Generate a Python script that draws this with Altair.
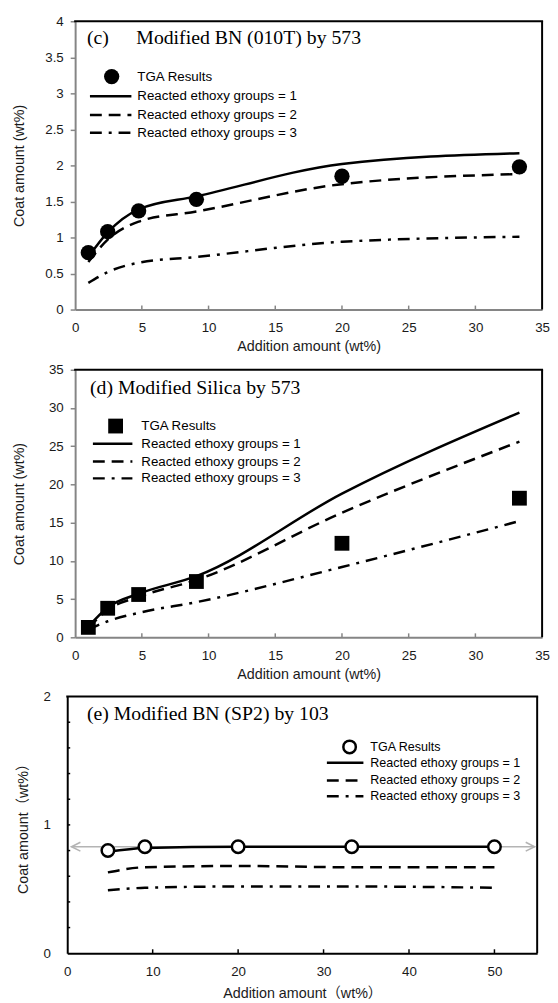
import altair as alt
import pandas as pd

SANS = "Liberation Sans, Arial, Noto Sans CJK JP, sans-serif"
SERIF = "Liberation Serif, Times New Roman, serif"

# ---------------- data ----------------
SERIES = ["Reacted ethoxy groups = 1", "Reacted ethoxy groups = 2", "Reacted ethoxy groups = 3"]

# (c) Modified BN (010T) by 573
c_x = [0.99, 2.44, 4.76, 9.09, 20.0, 33.3]
c_tga = [0.79, 1.08, 1.37, 1.53, 1.85, 1.98]
c_r1 = [0.73, 1.07, 1.39, 1.57, 2.02, 2.17]
c_r2 = [0.66, 0.97, 1.22, 1.36, 1.74, 1.88]
c_r3 = [0.37, 0.52, 0.65, 0.73, 0.94, 1.01]

# (d) Modified Silica by 573
d_x = [0.99, 2.44, 4.76, 9.09, 20.0, 33.3]
d_tga = [1.3, 3.8, 5.6, 7.3, 12.3, 18.2]
d_r1 = [1.4, 3.9, 5.7, 8.0, 18.8, 29.4]
d_r2 = [1.2, 3.6, 5.3, 7.5, 16.3, 25.6]
d_r3 = [1.0, 2.1, 3.2, 4.6, 9.2, 15.2]

# (e) Modified BN (SP2) by 103
e_x = [4.76, 9.09, 20.0, 33.3, 50.0]
e_tga = [0.80, 0.83, 0.83, 0.83, 0.83]
e_r1 = [0.79, 0.82, 0.83, 0.83, 0.83]
e_r2 = [0.63, 0.67, 0.68, 0.67, 0.67]
e_r3 = [0.49, 0.51, 0.52, 0.52, 0.51]
e_arrow_x = [0.5, 54.7]
e_arrow_y = 0.83

c_xticks = [0, 5, 10, 15, 20, 25, 30, 35]
c_yticks = [0, 0.5, 1, 1.5, 2, 2.5, 3, 3.5, 4]
d_xticks = [0, 5, 10, 15, 20, 25, 30, 35]
d_yticks = [0, 5, 10, 15, 20, 25, 30, 35]
e_xticks = [0, 10, 20, 30, 40, 50]
e_yticks = [0, 1, 2]
e_yminor = [0.2, 0.4, 0.6, 0.8, 1.0, 1.2, 1.4, 1.6, 1.8]

DASHES = [None, [12, 7], [12, 7, 3, 7]]
ONE = pd.DataFrame({"k": [0]})
NBSP = "\u00a0"


def panel(x, tga, reds, *, W, H, x0, xdom, ydom, xticks, yticks, xtitle, ytitle,
          ytitle_x, axis_color, shape, filled, psize, pstroke,
          titles, leg, ytick_out, ylabel_pad, xlabel_pad, xtitle_pad,
          leg_font=13.5, ylabel_expr=None, yminor=None, arrow=None, extent_left=None):
    # x0: pixel inset of the real plot frame inside the view (keeps panels' frames where the
    # original figure has them while the concat layout aligns view origins)
    yaxis_kw = dict(values=yticks, title=ytitle, domainColor=axis_color, domainWidth=2,
                    labelPadding=ylabel_pad, labelOverlap=False, labelFlush=False, format="~f",
                    titleX=ytitle_x, titleBaseline="middle", grid=False, offset=-x0)
    if ytick_out:
        yaxis_kw.update(ticks=True, tickSize=5, tickColor=axis_color, tickWidth=1.5)
    else:
        yaxis_kw.update(ticks=False, tickSize=0)
    if ylabel_expr:
        yaxis_kw["labelExpr"] = ylabel_expr
    xenc = alt.X("x:Q", scale=alt.Scale(domain=xdom, range=[x0, W], nice=False, zero=False),
                 axis=alt.Axis(values=xticks, title=xtitle, domainColor=axis_color, domainWidth=2,
                               ticks=False, tickSize=0, labelPadding=xlabel_pad, titlePadding=xtitle_pad,
                               titleX=(x0 + W) / 2,
                               format="~f", labelOverlap=False, labelFlush=False, grid=False))
    yenc = alt.Y("y:Q", scale=alt.Scale(domain=ydom, nice=False, zero=False),
                 axis=alt.Axis(**yaxis_kw))

    layers = []
    # frame: top and right borders
    layers.append(alt.Chart(ONE).mark_rule(stroke="black", strokeWidth=2).encode(
        x=alt.value(x0 - 1), x2=alt.value(W + 1), y=alt.value(0)))
    layers.append(alt.Chart(ONE).mark_rule(stroke="black", strokeWidth=2).encode(
        x=alt.value(W), y=alt.value(0), y2=alt.value(H)))
    # inward x ticks
    inner_x = [v for v in xticks if xdom[0] < v < xdom[1]]
    layers.append(alt.Chart(pd.DataFrame({"x": inner_x})).mark_rule(
        stroke=axis_color, strokeWidth=1.5).encode(x=xenc, y=alt.value(H), y2=alt.value(H - 4)))
    if yminor:
        layers.append(alt.Chart(pd.DataFrame({"y": yminor})).mark_rule(
            stroke=axis_color, strokeWidth=1.5).encode(y=yenc, x=alt.value(x0), x2=alt.value(x0 + 3)))
    if arrow:
        ax, ay = arrow
        layers.append(alt.Chart(pd.DataFrame({"x": [ax[0]], "x2": [ax[1]], "y": [ay]})).mark_rule(
            stroke="#b4b4b4", strokeWidth=1.6).encode(x=xenc, x2="x2:Q", y=yenc))
        layers.append(alt.Chart(pd.DataFrame({"x": [ax[0]], "y": [ay]})).mark_point(
            shape="M2,-1L0,0L2,1", size=81, filled=False, stroke="#b4b4b4", strokeWidth=1.6,
            opacity=1).encode(x=xenc, y=yenc))
        layers.append(alt.Chart(pd.DataFrame({"x": [ax[1]], "y": [ay]})).mark_point(
            shape="M-2,-1L0,0L-2,1", size=81, filled=False, stroke="#b4b4b4", strokeWidth=1.6,
            opacity=1).encode(x=xenc, y=yenc))
    # model lines
    for vals, dash in zip(reversed(reds), reversed(DASHES)):
        kw = dict(interpolate="monotone", stroke="black", strokeWidth=2.5)
        if dash:
            kw["strokeDash"] = dash
        layers.append(alt.Chart(pd.DataFrame({"x": x, "y": vals})).mark_line(**kw).encode(x=xenc, y=yenc))
    # TGA points
    pkw = dict(shape=shape, size=psize, opacity=1)
    if filled:
        pkw.update(filled=True, fill="black", stroke="black", strokeWidth=0)
    else:
        pkw.update(filled=True, fill="white", stroke="black", strokeWidth=pstroke)
    layers.append(alt.Chart(pd.DataFrame({"x": x, "y": tga})).mark_point(**pkw).encode(x=xenc, y=yenc))

    # legend
    sx, sy, tx, rows, lx0, lx1 = leg
    layers.append(alt.Chart(ONE).mark_point(**pkw).encode(x=alt.value(x0 + sx), y=alt.value(sy)))
    layers.append(alt.Chart(ONE).mark_text(align="left", baseline="middle", font=SANS,
                                           fontSize=leg_font, color="black").encode(
        x=alt.value(x0 + tx), y=alt.value(rows[0]), text=alt.value("TGA Results")))
    for name, dash, ry in zip(SERIES, DASHES, rows[1:]):
        kw = dict(stroke="black", strokeWidth=2.5)
        if dash:
            kw["strokeDash"] = dash
        layers.append(alt.Chart(ONE).mark_rule(**kw).encode(
            x=alt.value(x0 + lx0), x2=alt.value(x0 + lx1), y=alt.value(ry)))
        layers.append(alt.Chart(ONE).mark_text(align="left", baseline="middle", font=SANS,
                                               fontSize=leg_font, color="black").encode(
            x=alt.value(x0 + tx), y=alt.value(ry), text=alt.value(name)))
    # panel titles
    for txt, tx_, ty_ in titles:
        layers.append(alt.Chart(ONE).mark_text(align="left", baseline="alphabetic", font=SERIF,
                                               fontSize=20, color="black").encode(
            x=alt.value(x0 + tx_), y=alt.value(ty_), text=alt.value(txt)))
    if extent_left:
        layers.append(alt.Chart(ONE).mark_rule(stroke="white", strokeWidth=1).encode(
            x=alt.value(-extent_left), x2=alt.value(-extent_left + 1), y=alt.value(H / 2)))

    return alt.layer(*layers).properties(
        width=W, height=H,
        view=alt.ViewBackground(strokeOpacity=0, strokeWidth=0, fill="white"))


dec_expr = "datum.value % 1 ? datum.label + '" + NBSP * 3 + "' : datum.label"

p1 = panel(c_x, c_tga, [c_r1, c_r2, c_r3], W=481, H=292, x0=8, xdom=[0, 35], ydom=[0, 4],
           xticks=c_xticks, yticks=c_yticks, xtitle="Addition amount (wt%)",
           ytitle="Coat amount (wt%)", ytitle_x=-56, axis_color="#858585",
           shape="circle", filled=True, psize=240, pstroke=0,
           titles=[("(c)", 12, 23), ("Modified BN (010T) by 573", 62, 23)],
           leg=(37, 56, 63, [56, 76, 95, 113], 15, 57),
           ytick_out=True, ylabel_pad=7, xlabel_pad=11, xtitle_pad=6, ylabel_expr=dec_expr)

p2 = panel(d_x, d_tga, [d_r1, d_r2, d_r3], W=481, H=271, x0=8, xdom=[0, 35], ydom=[0, 35],
           xticks=d_xticks, yticks=d_yticks, xtitle="Addition amount (wt%)",
           ytitle="Coat amount (wt%)", ytitle_x=-56, axis_color="#858585",
           shape="square", filled=True, psize=225, pstroke=0,
           titles=[("(d) Modified Silica by 573", 15, 24.5)],
           leg=(41, 57, 67, [57, 75, 93, 110], 18, 58),
           ytick_out=True, ylabel_pad=7, xlabel_pad=11, xtitle_pad=6)

p3 = panel(e_x, e_tga, [e_r1, e_r2, e_r3], W=476, H=260, x0=0, xdom=[0, 55], ydom=[0, 2],
           xticks=e_xticks, yticks=e_yticks, xtitle="Addition amount（wt%）",
           ytitle="Coat amount（wt%）", ytitle_x=-44, axis_color="black",
           shape="circle", filled=False, psize=160, pstroke=2.5,
           titles=[("(e) Modified BN (SP2) by 103", 20, 24)],
           leg=(286, 51, 307, [51, 67, 85, 101], 263, 300),
           ytick_out=False, ylabel_pad=17, xlabel_pad=12, xtitle_pad=8,
           leg_font=12.7, yminor=e_yminor, arrow=(e_arrow_x, e_arrow_y), extent_left=59)

chart = alt.vconcat(alt.vconcat(p1, p2, spacing=10), p3, spacing=9).properties(
    padding={"left": 0, "top": 0, "right": 0, "bottom": 0}
).configure_axis(
    labelFont=SANS, labelFontSize=13.5, labelColor="#1a1a1a",
    titleFont=SANS, titleFontSize=14.5, titleFontWeight="normal", titleColor="#1a1a1a",
).configure_view(strokeOpacity=0)

chart.save("out.html", embed_options={"renderer": "svg", "actions": False})
